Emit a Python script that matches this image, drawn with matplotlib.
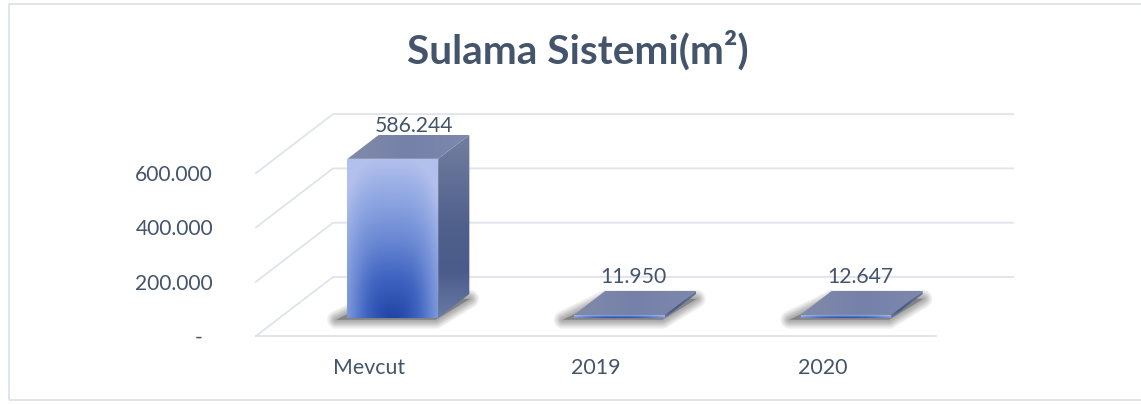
"""
Sulama Sistemi chart, 3D column look in a plain 2D axes
"""

import matplotlib
matplotlib.use("Agg")
import matplotlib.pyplot as plt
import numpy as np
from matplotlib.colors import LinearSegmentedColormap
from matplotlib.patches import Polygon, Rectangle

################ Data ################
categories = ["Mevcut", "2019", "2020"]
values = [586244, 11950, 12647]
value_labels = ["586.244", "11.950", "12.647"]
y_ticks = [0, 200000, 400000, 600000]
y_tick_labels = ["", "200.000", "400.000", "600.000"]

################ Style ################
TEXT_COLOR = "#44546a"
GRID_COLOR = "#dfe4ea"
FONT = "Lato"
WIDTH, HEIGHT = 1141, 405
PX = 0.72  # one pixel in points at dpi 100
PX_PER_CAT = 680 / 3
PX_PER_VALUE = 54.3 / 200000
DEPTH_X = 77 / PX_PER_CAT   # full floor depth in x units
DEPTH_Y = 59 / PX_PER_VALUE  # full floor depth in y units
BAR_WIDTH = 0.4
BAR_FRONT = 0.305
BAR_BACK = 0.71
LABEL_SHIFT = [(7, 22), (0, 27), (0, 27)]  # data label offset per bar, pixels

front_cmap = LinearSegmentedColormap.from_list(
    "front", ["#2246a8", "#3f64c0", "#6b89d4", "#8fa6e2", "#b2c0ec"])
side_cmap = LinearSegmentedColormap.from_list(
    "side", ["#6a7aa6", "#4b5c8b", "#4f608c", "#616f96", "#747f9f"])
top_cmap = LinearSegmentedColormap.from_list(
    "top", ["#808aa9", "#7581a9", "#7c88ad"])


def project(x, value, depth):
    return x + depth * DEPTH_X, value + depth * DEPTH_Y


def gradient_patch(ax, corners, image, cmap, zorder):
    # image is stretched over the bounding box and clipped by the polygon
    poly = Polygon(corners, closed=True, facecolor="none", edgecolor="none",
                   transform=ax.transData)
    ax.add_patch(poly)
    xs = [c[0] for c in corners]
    ys = [c[1] for c in corners]
    im = ax.imshow(image, extent=(min(xs), max(xs), min(ys), max(ys)), origin="lower",
                   cmap=cmap, vmin=0, vmax=1, aspect="auto", zorder=zorder,
                   interpolation="bilinear")
    im.set_clip_path(poly)


def draw_shadow(ax, left, right):
    s_front = BAR_FRONT - 0.03
    s_back = BAR_BACK - 0.08
    shadow = [project(left - 0.04, 0, s_front), project(right, 0, s_front),
              project(right + 0.03, 0, s_back), project(left + 0.03, 0, s_back)]
    # soft edge, a stack of faint wide strokes under a grey fill
    for lw in (13, 11, 9, 7.5, 6, 4.5, 3, 1.5):
        ax.add_patch(Polygon(shadow, closed=True, facecolor="none", edgecolor="#666666",
                             linewidth=lw, alpha=0.09, joinstyle="round", zorder=3))
    ax.add_patch(Polygon(shadow, closed=True, facecolor="#666666", edgecolor="none",
                         alpha=0.6, zorder=3))


def draw_bar(ax, x, value):
    left, right = x - BAR_WIDTH / 2, x + BAR_WIDTH / 2
    fbl = project(left, 0, BAR_FRONT)
    fbr = project(right, 0, BAR_FRONT)
    ftl = project(left, value, BAR_FRONT)
    ftr = project(right, value, BAR_FRONT)
    bbr = project(right, 0, BAR_BACK)
    btl = project(left, value, BAR_BACK)
    btr = project(right, value, BAR_BACK)

    draw_shadow(ax, left, right)

    # front face, gradient from the bottom centre
    gx, gy = np.meshgrid(np.linspace(-1, 1, 80), np.linspace(0, 1, 120))
    radial = np.sqrt((0.62 * np.abs(gx) ** 1.6) ** 2 + gy ** 2)
    gradient_patch(ax, [fbl, fbr, ftr, ftl], np.clip(radial, 0, 1), front_cmap, 5)

    # right side face
    gy = np.linspace(0, 1, 120).reshape(-1, 1) * np.ones((120, 2))
    gradient_patch(ax, [fbr, bbr, btr, ftr], gy, side_cmap, 5)

    # top face
    gx = np.linspace(0, 1, 80).reshape(1, -1) * np.ones((2, 80))
    gradient_patch(ax, [ftl, ftr, btr, btl], gx, top_cmap, 6)


def main():
    plt.rcParams["font.family"] = [FONT, "DejaVu Sans"]
    fig = plt.figure(figsize=(WIDTH / 100, HEIGHT / 100), dpi=100, facecolor="white")

    # outer frame of the chart, the right side runs off the picture
    fig.add_artist(Rectangle((9 / WIDTH, 1 - 400 / HEIGHT), 1140 / WIDTH, 396 / HEIGHT,
                             transform=fig.transFigure, fill=False,
                             edgecolor="#dde2e9", linewidth=1.3))

    ax = fig.add_axes([256 / WIDTH, 1 - 336 / HEIGHT, 680 / WIDTH, 236 / HEIGHT])
    for spine in ax.spines.values():
        spine.set_visible(False)

    # grid lines, back wall, left wall and the front edge of the floor
    for tick in y_ticks:
        wall = [project(-0.5, tick, 0), project(-0.5, tick, 1), project(2.5, tick, 1)]
        ax.plot(*zip(*wall), color=GRID_COLOR, lw=1.3, clip_on=False, zorder=1)
    ax.plot(*zip(project(-0.5, 0, 0), project(2.5, 0, 0)), color=GRID_COLOR, lw=1.3,
            clip_on=False, zorder=1)

    for i, value in enumerate(values):
        draw_bar(ax, i, value)
        dx, dy = LABEL_SHIFT[i]
        ax.annotate(value_labels[i], project(i, value, 0.485), xytext=(dx * PX, dy * PX),
                    textcoords="offset points", ha="center", va="center",
                    color=TEXT_COLOR, fontsize=15.2, zorder=8, annotation_clip=False)

    ax.set_xlim(-0.5, 2.5)
    ax.set_ylim(0, 236 / PX_PER_VALUE)
    ax.set_xticks(range(len(categories)), categories)
    ax.set_yticks(y_ticks, y_tick_labels)
    ax.tick_params(axis="x", length=0, pad=16, labelsize=15.4, labelcolor=TEXT_COLOR)
    ax.tick_params(axis="y", length=0, pad=43 * PX, labelsize=15.1, labelcolor=TEXT_COLOR)
    ax.patch.set_visible(False)

    # zero label sits further in, accounting style format
    ax.annotate("-", (-0.5, 0), xytext=(-57 * PX, -2 * PX), textcoords="offset points",
                ha="center", va="center", color=TEXT_COLOR, fontsize=15.1, annotation_clip=False)

    fig.text(577.5 / WIDTH, 1 - 64 / HEIGHT, "Sulama Sistemi(m²)", ha="center", va="baseline",
             color=TEXT_COLOR, fontsize=29.2, fontweight="bold")

    fig.savefig("out.png", dpi=100)


if __name__ == '__main__':
    main()
